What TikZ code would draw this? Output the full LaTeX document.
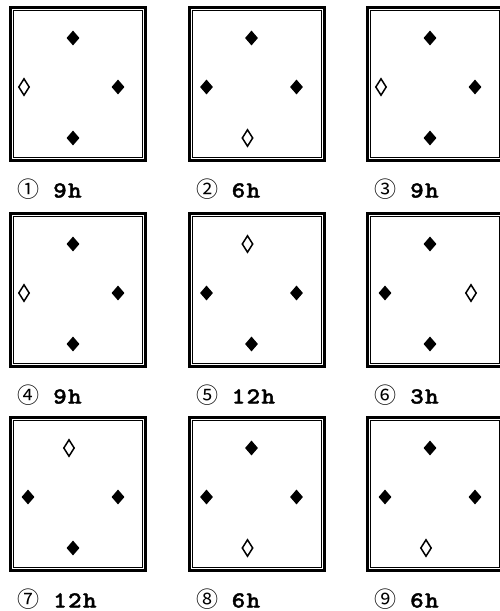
\documentclass[tikz,border=0pt]{standalone}
\usepackage{fontspec}
\usetikzlibrary{shapes.geometric, calc}
\newfontfamily\circfont{Noto Sans CJK JP}
\newfontfamily\hourfont[FakeStretch=1.12, LetterSpace=6, FakeBold=1.6]{lmmonolt10-bold.otf}

\begin{document}
\begin{tikzpicture}[
    x=1pt, y=-1pt,
    frame/.style={draw, line width=3pt, minimum width=135pt, minimum height=153pt, inner sep=0pt},
    inframe/.style={draw, line width=1pt, minimum width=129pt, minimum height=147pt, inner sep=0pt},
    full/.style={diamond, fill=black, inner sep=0pt, minimum width=13pt, minimum height=15pt},
    hollow/.style={diamond, draw, line width=1.5pt, fill=white, inner sep=0pt, minimum width=11pt, minimum height=17pt, xshift=-4pt},
    num/.style={font=\circfont\fontsize{22}{22}\selectfont, anchor=base, inner sep=0pt},
    hour/.style={font=\hourfont\fontsize{23}{23}\selectfont, anchor=base west, inner sep=0pt},
]
\useasboundingbox (0,0) rectangle (500,611);
\clip (0,0) rectangle (500,611);

% ── Panels: frame, four diamonds, number and hour ──
\foreach \k/\cx/\cy/\tp/\lf/\rt/\bt/\cn/\hr in {
    1/78/84/full/hollow/full/full/①/9h,
    2/256.5/84/full/full/full/hollow/②/6h,
    3/435/84/full/hollow/full/full/③/9h,
    4/78/290/full/hollow/full/full/④/9h,
    5/256.5/290/hollow/full/full/full/⑤/12h,
    6/435/290/full/full/hollow/full/⑥/3h,
    7/78/494/hollow/full/full/full/⑦/12h,
    8/256.5/494/full/full/full/hollow/⑧/6h,
    9/435/494/full/full/full/hollow/⑨/6h}
{
    \node[frame] (f\k) at (\cx,\cy) {};
    \node[inframe] (g\k) at (f\k) {};
    \node[\tp] (t\k) at ($(f\k.center)+(-5,-46)$) {};
    \node[\lf] (l\k) at ($(f\k.center)+(-50,3)$) {};
    \node[\rt] (r\k) at ($(f\k.center)+(40,3)$) {};
    \node[\bt] (b\k) at ($(f\k.center)+(-5,54)$) {};
    \node[num] (n\k) at ($(f\k.south west)+(19.5,35.5)$) {\cn};
    \node[hour] (h\k) at ($(f\k.south west)+(44,35.5)$) {\hr};
}

\end{tikzpicture}
\end{document}
